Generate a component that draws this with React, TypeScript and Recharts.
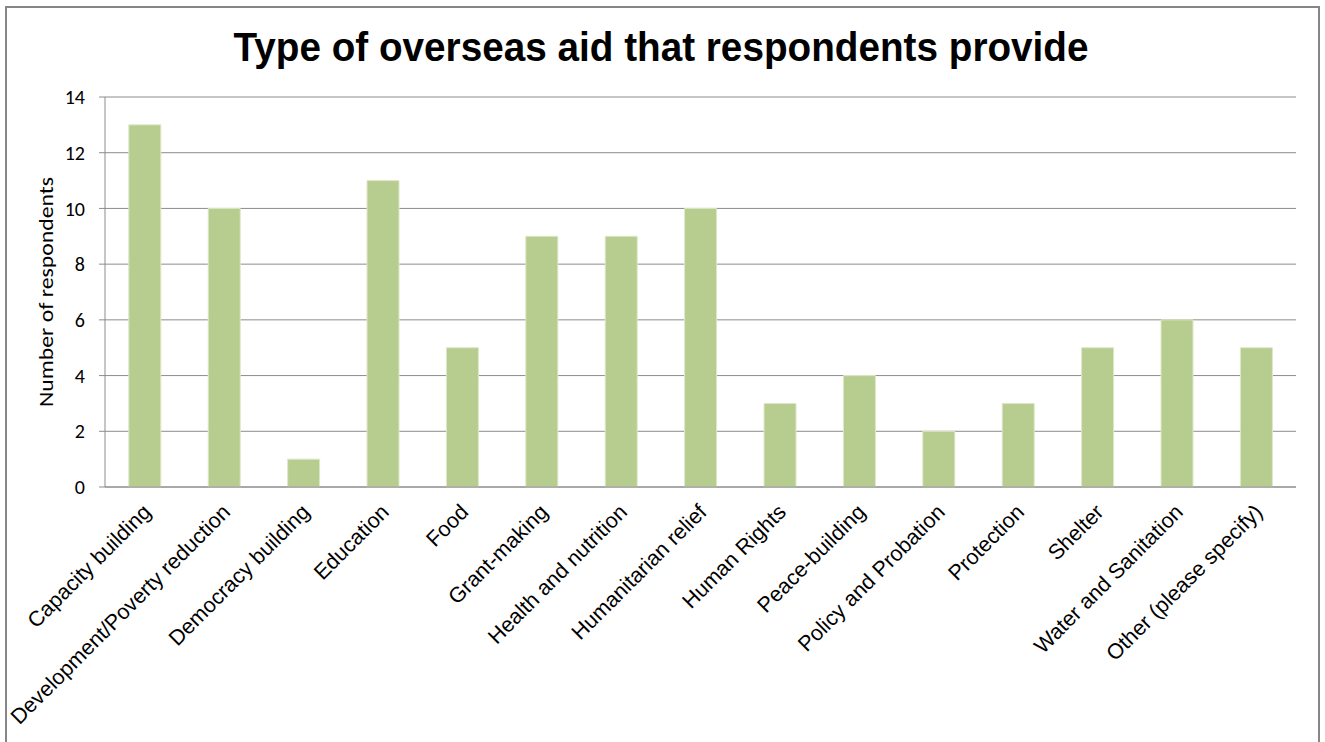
import { BarChart, Bar, XAxis, YAxis, CartesianGrid } from "recharts";

const categories = [
  "Capacity building",
  "Development/Poverty reduction",
  "Democracy building",
  "Education",
  "Food",
  "Grant-making",
  "Health and nutrition",
  "Humanitarian relief",
  "Human Rights",
  "Peace-building",
  "Policy and Probation",
  "Protection",
  "Shelter",
  "Water and Sanitation",
  "Other (please specify)",
];
const respondents = [13, 10, 1, 11, 5, 9, 9, 10, 3, 4, 2, 3, 5, 6, 5];
const yTicks = [0, 2, 4, 6, 8, 10, 12, 14];

const data = categories.map((name, i) => ({ name, value: respondents[i] }));

const CategoryTick = (props: any) => {
  const { x, y, payload } = props;
  return (
    <g transform={`translate(${x - 4},${y + 7})`}>
      <text
        x={0}
        y={0}
        dy="0.75em"
        textAnchor="end"
        transform="rotate(-45)"
        fontFamily="Arial, 'Liberation Sans', sans-serif"
        fontSize={21.5}
        fill="#000"
      >
        {payload.value}
      </text>
    </g>
  );
};

const AxisTitle = (props: any) => {
  const { viewBox } = props;
  const cy = viewBox.y + viewBox.height / 2;
  return (
    <text
      x={0}
      y={0}
      transform={`translate(${viewBox.x - 2},${cy}) rotate(-90)`}
      textAnchor="middle"
      fontFamily="Carlito, Lato, sans-serif"
      fontSize={20}
      textLength={230}
      lengthAdjust="spacingAndGlyphs"
      fill="#000"
    >
      Number  of respondents
    </text>
  );
};

export default function App() {
  return (
    <div style={{ position: "absolute", left: 0, top: 0, width: 1325, height: 742, background: "#fff", overflow: "hidden" }}>
      <div style={{ position: "absolute", left: 5, top: 6, width: 1311, height: 760, border: "2px solid #868686" }} />
      <svg width={1325} height={90} style={{ position: "absolute", left: 0, top: 0 }}>
        <text
          x={661}
          y={61}
          textAnchor="middle"
          fontFamily="Arial, 'Liberation Sans', sans-serif"
          fontWeight="bold"
          fontSize={40}
          textLength={855}
          lengthAdjust="spacingAndGlyphs"
          fill="#000"
        >
          Type of overseas aid that respondents provide
        </text>
      </svg>
      <div style={{ position: "absolute", left: 0, top: 0 }}>
        <BarChart
          width={1325}
          height={742}
          data={data}
          margin={{ top: 97, right: 29, left: 55, bottom: 15 }}
          barCategoryGap="30%"
        >
          <CartesianGrid vertical={false} stroke="#8c8c8c" strokeWidth={1} />
          <XAxis
            dataKey="name"
            interval={0}
            height={240}
            tickLine={false}
            axisLine={{ stroke: "#8c8c8c" }}
            tick={<CategoryTick />}
          />
          <YAxis
            width={50}
            domain={[0, 14]}
            ticks={yTicks}
            interval={0}
            axisLine={{ stroke: "#8c8c8c" }}
            tickLine={{ stroke: "#8c8c8c" }}
            tickSize={6}
            tickMargin={14}
            tick={{ fill: "#000", fontSize: 20, fontFamily: "Carlito, Lato, sans-serif" }}
            label={<AxisTitle />}
          />
          <Bar dataKey="value" fill="#b7cd8f" stroke="#dde8c8" strokeWidth={1} isAnimationActive={false} />
        </BarChart>
      </div>
    </div>
  );
}
